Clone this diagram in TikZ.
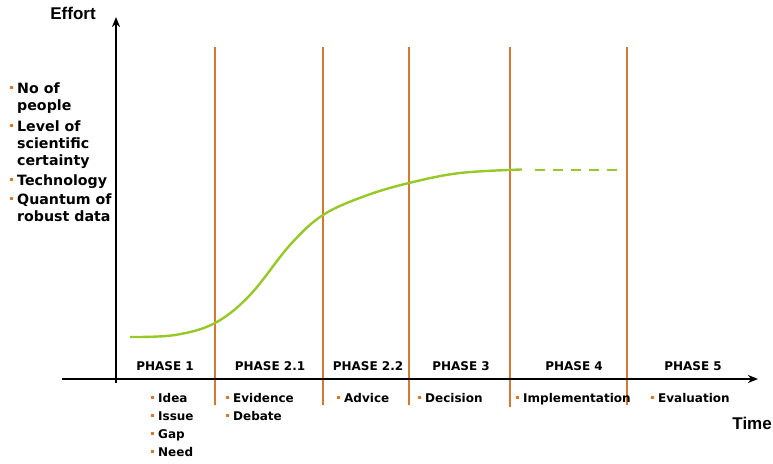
\documentclass[tikz,border=0pt]{standalone}
\usepackage{fontspec}
\setmainfont{DejaVu Sans}
\newfontfamily\arialfont{Liberation Sans}
\usepackage{tikz}
\usetikzlibrary{arrows.meta,positioning}
\definecolor{phaseline}{RGB}{214,120,50}
\definecolor{curvegreen}{RGB}{150,200,40}
\newcommand{\bl}{\llap{{\color{phaseline}\rule[0.28em]{3pt}{3pt}}\hspace{4.5pt}}}
\tikzset{
	axis/.style={line width=1.8pt,-{Stealth[length=10pt,width=8pt,inset=3pt]}},
	phase line/.style={phaseline,line width=1.3pt},
	ph/.style={font=\bfseries\fontsize{12}{14}\selectfont,anchor=base,inner sep=0pt},
	items/.style={font=\bfseries\fontsize{12}{18}\selectfont,align=left,anchor=base west,inner sep=0pt},
	factors/.style={font=\bfseries\fontsize{14.2}{17}\selectfont,align=left,anchor=base west,inner sep=0pt},
	axis label/.style={font=\arialfont\bfseries\fontsize{17}{20}\selectfont,inner sep=0pt}
}

\begin{document}
\begin{tikzpicture}[x=1pt,y=-1pt]
		\useasboundingbox (0,0) rectangle (773,463);
		
		\draw[phase line] (215,47) -- (215,405);
		\draw[phase line] (323,47) -- (323,405);
		\draw[phase line] (409,47) -- (409,405);
		\draw[phase line] (510,47) -- (510,407);
		\draw[phase line] (627,47) -- (627,405);
		
		\draw[axis] (116,383) -- (116,17);
		\draw[axis] (62,379) -- (758,379);
		
		\draw[curvegreen,line width=2.4pt] plot[smooth,tension=0.6] coordinates {(130,337) (175,335) (215,323) (250,295) (290,245) (323,215) (365,196) (409,183) (460,173) (522,169.5)};
		\draw[curvegreen,line width=2.4pt,dash pattern=on 10pt off 8pt] (535,170) -- (620,170);
		
		\node[axis label,anchor=base] (effort) at (73,19) {Effort};
		\node[axis label,anchor=base east] (time) at (772,429) {Time};
		
		\node[factors] (people) at (17,110) {\bl No of\\people};
		\node[factors] (certainty) at (17,165) {\bl Level of\\scientific\\certainty};
		\node[factors] (technology) at (17,185) {\bl Technology};
		\node[factors] (data) at (17,221) {\bl Quantum of\\robust data};
		
		\node[ph] (p1) at (165,370) {PHASE 1};
		\node[ph] (p21) at (270,370) {PHASE 2.1};
		\node[ph] (p22) at (368,370) {PHASE 2.2};
		\node[ph] (p3) at (461,370) {PHASE 3};
		\node[ph] (p4) at (574,370) {PHASE 4};
		\node[ph] (p5) at (693,370) {PHASE 5};
		
		\node[items] (idea) at (158,456) {\bl Idea\\\bl Issue\\\bl Gap\\\bl Need};
		\node[items] (evidence) at (233,420) {\bl Evidence\\\bl Debate};
		\node[items] (advice) at (344,402) {\bl Advice};
		\node[items] (decision) at (425,402) {\bl Decision};
		\node[items] (implementation) at (523,402) {\bl Implementation};
		\node[items] (evaluation) at (658,402) {\bl Evaluation};
		
	\end{tikzpicture}
\end{document}
